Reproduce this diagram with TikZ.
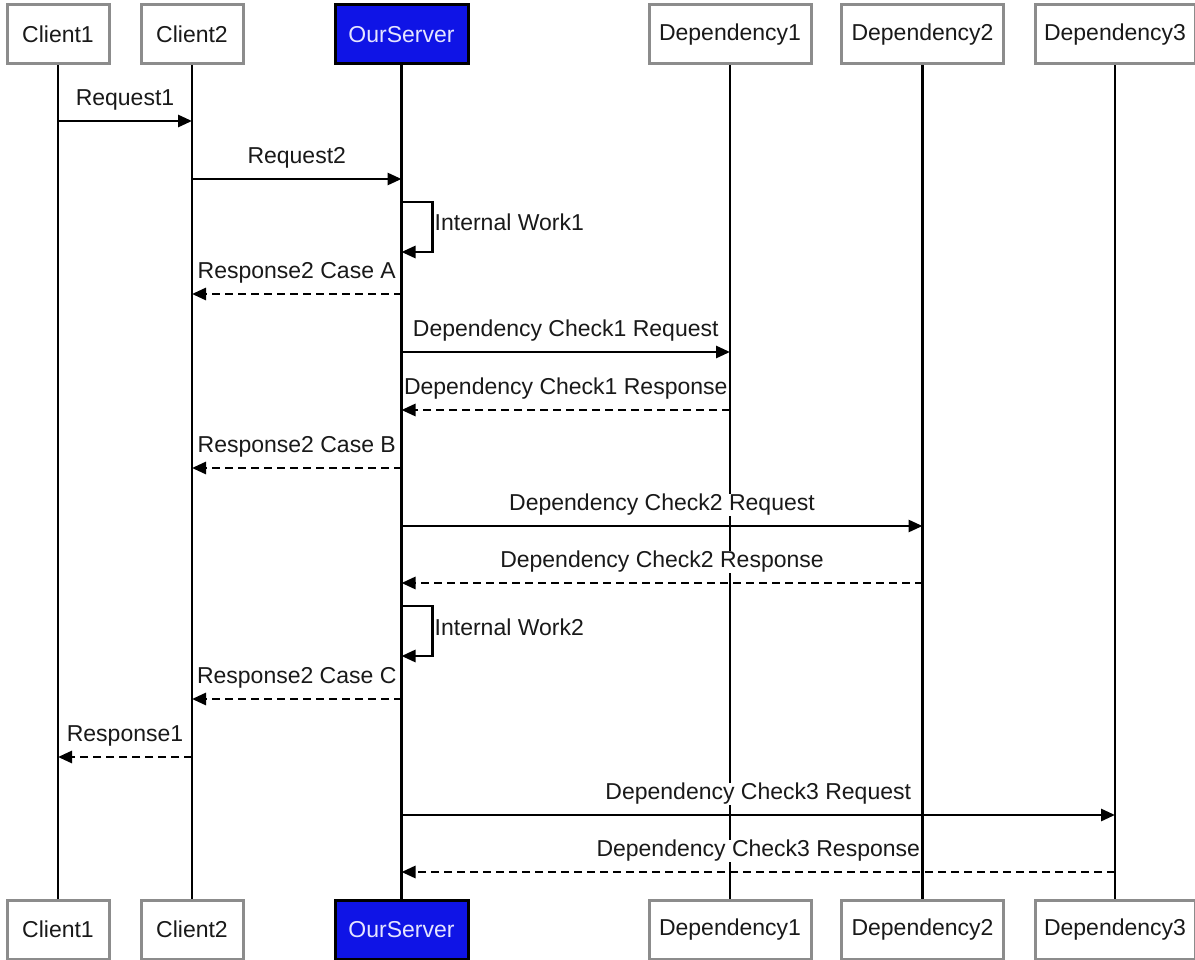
\documentclass[tikz,border=0pt]{standalone}
\usepackage{fontspec}
\setmainfont{Liberation Sans}
\usetikzlibrary{arrows.meta}
\definecolor{boxgray}{HTML}{8C8C8C}
\definecolor{srvblue}{HTML}{0F14E6}
\begin{document}
\begin{tikzpicture}[x=1pt,y=-1pt,
  every node/.style={font=\fontsize{23}{26}\selectfont},
  actor/.style={draw=boxgray,line width=3pt,fill=white,minimum height=59pt,inner sep=0pt,text=black!90},
  srv/.style={draw=black,line width=3pt,fill=srvblue,minimum height=59pt,minimum width=133pt,inner sep=0pt,text=white!90!blue},
  life/.style={line width=2.8pt},
  msg/.style={line width=2.8pt,-{Triangle[length=14pt,width=12pt]}},
  ret/.style={msg,dash pattern=on 8pt off 5pt},
  lbl/.style={fill=white,inner sep=0.5pt,text=black!90},
]
\useasboundingbox (0,0) rectangle (1195,960);
% top boxes
\node[actor,minimum width=102pt] (t1) at (58,34.5) {Client1};
\node[actor,minimum width=102pt] (t2) at (192,34.5) {Client2};
\node[srv] (t3) at (401.5,34.5) {OurServer};
\node[actor,minimum width=162pt] (t4) at (730,34.5) {Dependency1};
\node[actor,minimum width=162pt] (t5) at (922.5,34.5) {Dependency2};
\node[actor,minimum width=160pt] (t6) at (1115,34.5) {Dependency3};
% bottom boxes
\node[actor,minimum width=102pt] (b1) at (58,929.5) {Client1};
\node[actor,minimum width=102pt] (b2) at (192,929.5) {Client2};
\node[srv] (b3) at (401.5,929.5) {OurServer};
\node[actor,minimum width=162pt] (b4) at (730,929.5) {Dependency1};
\node[actor,minimum width=162pt] (b5) at (922.5,929.5) {Dependency2};
\node[actor,minimum width=160pt] (b6) at (1115,929.5) {Dependency3};
% lifelines
\foreach \i in {1,...,6} {\draw[life] (t\i.south) -- (b\i.north);}
% messages
\draw[msg] (t1 |- 0,121) -- (t2 |- 0,121) node[midway,yshift=21pt,lbl] {Request1};
\draw[msg] (t2 |- 0,179) -- (t3 |- 0,179) node[midway,yshift=21pt,lbl] {Request2};
\draw[msg] (t3 |- 0,202) -- ++(31,0) |- (t3 |- 0,252);
\node[lbl,anchor=west] (iw1) at (434,222) {Internal Work1};
\draw[ret] (t3 |- 0,294) -- (t2 |- 0,294) node[midway,yshift=21pt,lbl] {Response2 Case A};
\draw[msg] (t3 |- 0,352) -- (t4 |- 0,352) node[midway,yshift=21pt,lbl] {Dependency Check1 Request};
\draw[ret] (t4 |- 0,410) -- (t3 |- 0,410) node[midway,yshift=21pt,lbl] {Dependency Check1 Response};
\draw[ret] (t3 |- 0,468) -- (t2 |- 0,468) node[midway,yshift=21pt,lbl] {Response2 Case B};
\draw[msg] (t3 |- 0,526) -- (t5 |- 0,526) node[midway,yshift=21pt,lbl] {Dependency Check2 Request};
\draw[ret] (t5 |- 0,583) -- (t3 |- 0,583) node[midway,yshift=21pt,lbl] {Dependency Check2 Response};
\draw[msg] (t3 |- 0,606) -- ++(31,0) |- (t3 |- 0,656);
\node[lbl,anchor=west] (iw2) at (434,627) {Internal Work2};
\draw[ret] (t3 |- 0,699) -- (t2 |- 0,699) node[midway,yshift=21pt,lbl] {Response2 Case C};
\draw[ret] (t2 |- 0,757) -- (t1 |- 0,757) node[midway,yshift=21pt,lbl] {Response1};
\draw[msg] (t3 |- 0,815) -- (t6 |- 0,815) node[midway,yshift=21pt,lbl] {Dependency Check3 Request};
\draw[ret] (t6 |- 0,872) -- (t3 |- 0,872) node[midway,yshift=21pt,lbl] {Dependency Check3 Response};
\end{tikzpicture}
\end{document}
